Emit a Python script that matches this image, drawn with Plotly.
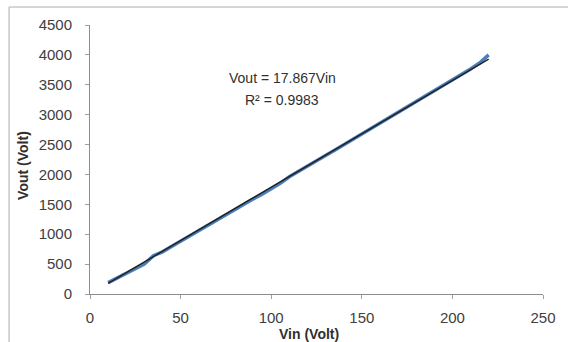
import plotly.graph_objects as go

vin = [10, 15, 20, 25, 30, 35, 40, 45, 50, 55, 60, 65, 70, 75, 80, 85, 90, 95, 100,
       105, 110, 115, 120, 125, 130, 135, 140, 145, 150, 155, 160, 165, 170, 175,
       180, 185, 190, 195, 200, 205, 210, 215, 220]
vout = [190, 270, 345, 425, 500, 640, 705, 795, 885, 975, 1065, 1155, 1245, 1335,
        1420, 1500, 1590, 1670, 1760, 1850, 1960, 2045, 2130, 2225, 2315, 2405,
        2495, 2585, 2680, 2765, 2855, 2945, 3035, 3125, 3220, 3320, 3410, 3485,
        3575, 3665, 3765, 3865, 4000]
slope = 17.867
r2 = 0.9983
x_ticks = [0, 50, 100, 150, 200, 250]
y_ticks = [0, 500, 1000, 1500, 2000, 2500, 3000, 3500, 4000, 4500]

trend_x = [min(vin), max(vin)]
trend_y = [slope * v for v in trend_x]

font_fam = "Liberation Sans, Arial, sans-serif"

fig = go.Figure()
fig.add_trace(go.Scatter(x=vin, y=vout, mode="lines",
                         line=dict(color="#4a7ebb", width=3.5), showlegend=False))
fig.add_trace(go.Scatter(x=trend_x, y=trend_y, mode="lines",
                         line=dict(color="#222222", width=1.5), showlegend=False))

fig.update_layout(
    width=568, height=342,
    margin=dict(l=90, r=19, t=25, b=48),
    paper_bgcolor="white", plot_bgcolor="white",
    font=dict(family=font_fam, size=15, color="#404040"),
    xaxis=dict(range=[0, 250], tickvals=x_ticks, showgrid=False, zeroline=False,
               showline=True, linecolor="#8c8c8c", linewidth=1,
               ticks="outside", ticklen=4, tickcolor="#a0a0a0",
               ticklabelstandoff=6, fixedrange=True),
    yaxis=dict(range=[0, 4500], tickvals=y_ticks, showgrid=False, zeroline=False,
               showline=True, linecolor="#8c8c8c", linewidth=1,
               ticks="outside", ticklen=4, tickcolor="#a0a0a0",
               ticklabelstandoff=10, fixedrange=True),
    annotations=[
        dict(text="Vout = %.3fVin" % slope, x=106, y=3613, xref="x", yref="y",
             showarrow=False, font=dict(size=14, color="#303030")),
        dict(text="R² = %.4f" % r2, x=106, y=3245, xref="x", yref="y",
             showarrow=False, font=dict(size=14, color="#303030")),
        dict(text="<b>Vin (Volt)</b>", x=(312 - 90) / 459, y=(294 - 334) / 269,
             xref="paper", yref="paper", showarrow=False,
             xanchor="center", yanchor="middle",
             font=dict(size=14, color="#303030")),
        dict(text="<b>Vout (Volt)</b>", x=(22 - 90) / 459, y=(294 - 165) / 269,
             xref="paper", yref="paper", showarrow=False, textangle=-90,
             xanchor="center", yanchor="middle",
             font=dict(size=14, color="#303030")),
    ],
    shapes=[
        dict(type="line", xref="paper", yref="paper",
             x0=(8 - 90) / 459, x1=(8 - 90) / 459, y0=-0.3, y1=(294 - 7) / 269,
             line=dict(color="#c8c8c8", width=1.5)),
        dict(type="line", xref="paper", yref="paper",
             x0=(8 - 90) / 459, x1=1.2, y0=(294 - 7) / 269, y1=(294 - 7) / 269,
             line=dict(color="#c8c8c8", width=1.5)),
    ],
)

fig.write_html("out.html", config={"displayModeBar": False},
               post_script="document.body.style.margin='0';")
